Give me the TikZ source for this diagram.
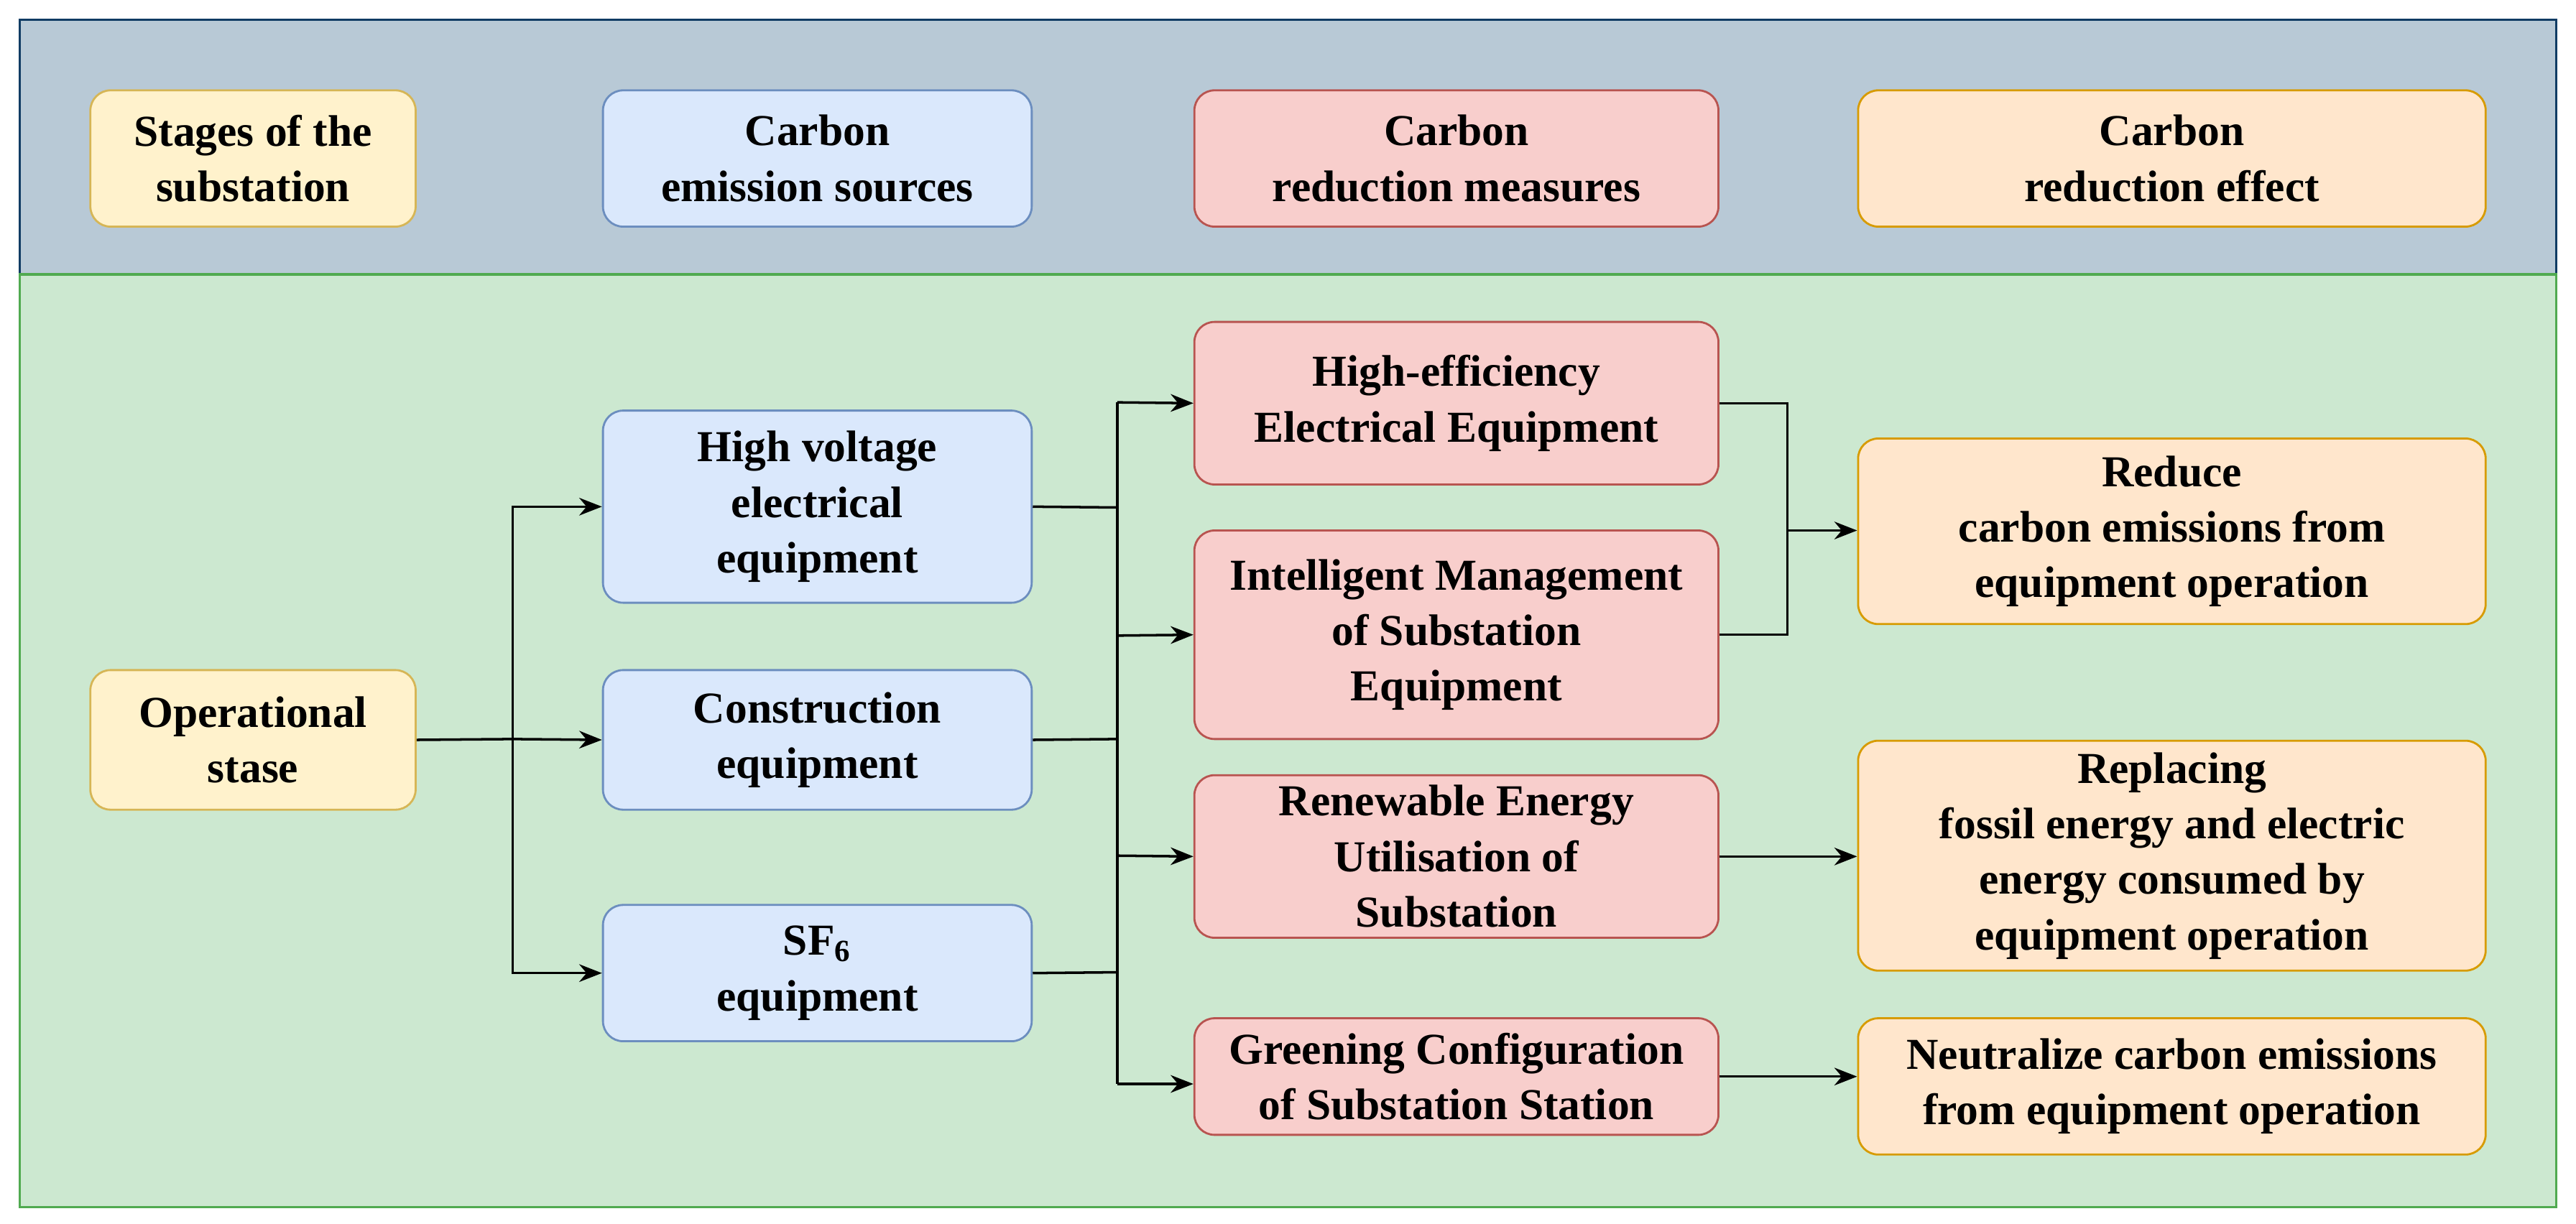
\documentclass[tikz,border=0pt]{standalone}
\usepackage{fontspec}
\setmainfont{Liberation Serif}
\usetikzlibrary{arrows.meta}
\definecolor{ybf}{HTML}{FFF2CC}\definecolor{ybd}{HTML}{D6B656}
\definecolor{bbf}{HTML}{DAE8FC}\definecolor{bbd}{HTML}{6C8EBF}
\definecolor{rbf}{HTML}{F8CECC}\definecolor{rbd}{HTML}{B85450}
\definecolor{obf}{HTML}{FFE6CC}\definecolor{obd}{HTML}{D79B00}
\begin{document}
\begin{tikzpicture}[x=0.02286cm,y=-0.02286cm,
 bx/.style={draw,line width=0.8pt,rounded corners=8pt,align=center,font=\fontsize{17.5}{22}\selectfont\bfseries,inner sep=0pt},
 yb/.style={bx,fill=ybf,draw=ybd},bb/.style={bx,fill=bbf,draw=bbd},
 rb/.style={bx,fill=rbf,draw=rbd},ob/.style={bx,fill=obf,draw=obd},
 ar/.style={-{Stealth[length=9pt,width=7pt]},line width=1pt},ln/.style={line width=1pt}]
\useasboundingbox (0,0) rectangle (1568,745);
\fill[white] (0,0) rectangle (1568,745);
\draw[fill={rgb,255:red,184;green,201;blue,214},draw={rgb,255:red,16;green,60;blue,100},line width=1pt] (12,12) rectangle (1556,167);
\draw[fill={rgb,255:red,204;green,232;blue,208},draw={rgb,255:red,80;green,170;blue,80},line width=1pt] (12,167) rectangle (1556,735);
\newcommand\bxat[6]{\node[#1,minimum width={(#4-#2)*0.02286cm},minimum height={(#5-#3)*0.02286cm}] (#6) at ({(#2+#4)/2},{(#3+#5)/2})}
\bxat{yb}{55}{55}{253}{138}{h1}{Stages of the\\substation};
\bxat{bb}{367}{55}{628}{138}{h2}{Carbon\\emission sources};
\bxat{rb}{727}{55}{1046}{138}{h3}{Carbon\\reduction measures};
\bxat{ob}{1131}{55}{1513}{138}{h4}{Carbon\\reduction effect};
\bxat{yb}{55}{408}{253}{493}{op}{Operational\\stase};
\bxat{bb}{367}{250}{628}{367}{hv}{High voltage\\electrical\\equipment};
\bxat{bb}{367}{408}{628}{493}{ce}{Construction\\equipment};
\bxat{bb}{367}{551}{628}{634}{sf}{SF\textsubscript{6}\\equipment};
\bxat{rb}{727}{196}{1046}{295}{he}{High-efficiency\\Electrical Equipment};
\bxat{rb}{727}{323}{1046}{450}{im}{Intelligent Management\\of Substation\\Equipment};
\bxat{rb}{727}{472}{1046}{571}{re}{Renewable Energy\\Utilisation of\\Substation};
\bxat{rb}{727}{620}{1046}{691}{gc}{Greening Configuration\\of Substation Station};
\bxat{ob}{1131}{267}{1513}{380}{rd}{Reduce\\carbon emissions from\\equipment operation};
\bxat{ob}{1131}{451}{1513}{591}{rp}{Replacing\\fossil energy and electric\\energy consumed by\\equipment operation};
\bxat{ob}{1131}{620}{1513}{703}{nt}{Neutralize carbon emissions\\from equipment operation};
\coordinate (t1) at (312,450);
\draw[ln] (op.east) -- (t1);
\draw[ar] (t1) |- (hv.west);\draw[ar] (t1) -- (ce.west);\draw[ar] (t1) |- (sf.west);
\coordinate (a) at (680,309);\coordinate (b) at (680,450);\coordinate (c) at (680,592);
\draw[ln] (hv.east) -- (a);\draw[ln] (ce.east) -- (b);\draw[ln] (sf.east) -- (c);
\coordinate (t2) at (680,245);
\draw[ar] (t2) -- (he.west);\draw[ln] (t2) -- (680,660);
\draw[ar] (680,387) -- (im.west);\draw[ar] (680,521) -- (re.west);\draw[ar] (680,660) -- (680,660-|gc.west);
\coordinate (t3) at (1088,323);
\draw[ln] (he.east) -| (t3);\draw[ln] (im.east) -| (t3);
\draw[ar] (t3) -- (t3-|rd.west);
\draw[ar] (re.east) -- (re.east-|rp.west);
\draw[ar] (gc.east) -- (gc.east-|nt.west);
\end{tikzpicture}
\end{document}
